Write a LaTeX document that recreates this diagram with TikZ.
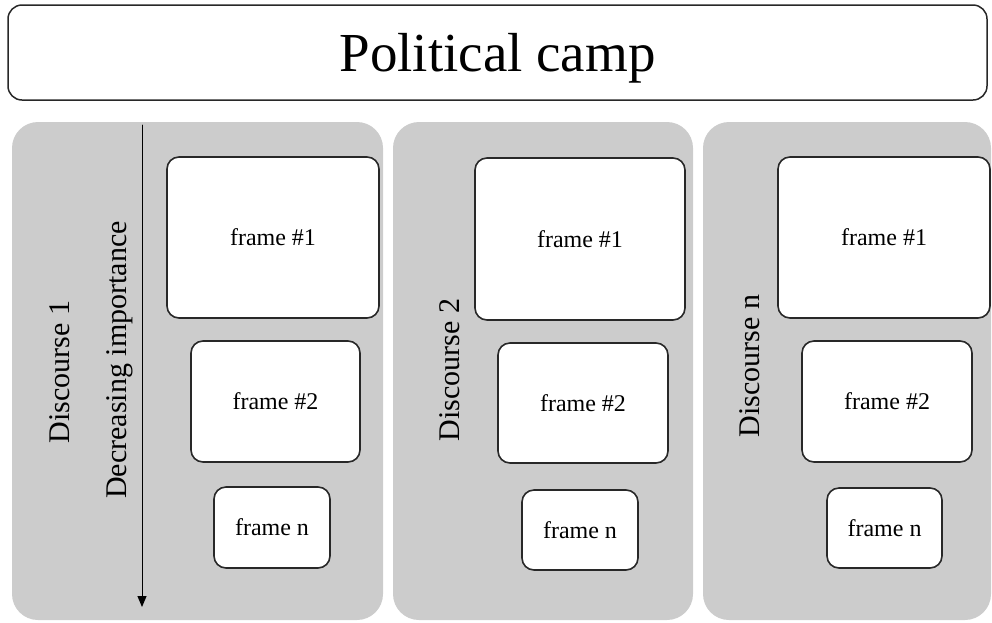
\documentclass[tikz,border=0pt]{standalone}
\usepackage{fontspec}
\setmainfont{Liberation Serif}
\usetikzlibrary{arrows.meta}
\definecolor{panelgray}{RGB}{204,204,204}
\definecolor{edgegray}{RGB}{40,40,40}
\begin{document}
\begin{tikzpicture}[line cap=round,line join=round,>={Triangle[width=9pt,length=11pt]},x=1pt,y=-1pt,
  camp/.style={draw=edgegray,line width=1.5pt,rounded corners=14pt,fill=white,
    minimum width=979pt,minimum height=95pt,text depth=0pt,font=\fontsize{55}{60}\selectfont},
  panel/.style={fill=panelgray,rounded corners=26pt},
  framebox/.style={draw=edgegray,line width=1.6pt,rounded corners=12pt,fill=white,
    inner sep=0pt,font=\fontsize{24}{28}\selectfont},
  disc/.style={rotate=90,font=\fontsize{30}{34}\selectfont}]
\useasboundingbox (0,0) rectangle (992,622);
\node[camp] (camp) at (497.5,52.5) {Political camp};
\fill[panel] (12,122) rectangle (383,620);
\fill[panel] (393,122) rectangle (693,620);
\fill[panel] (703,122) rectangle (991,620);
\node[framebox,minimum width=212pt,minimum height=161pt] (f11) at (273,237.5) {frame \#1};
\node[framebox,minimum width=169pt,minimum height=121pt] (f12) at (275.5,401.5) {frame \#2};
\node[framebox,minimum width=116pt,minimum height=81pt] (f1n) at (272,527.5) {frame n};
\node[framebox,minimum width=210pt,minimum height=162pt] (f21) at (580,239) {frame \#1};
\node[framebox,minimum width=170pt,minimum height=120pt] (f22) at (583,403) {frame \#2};
\node[framebox,minimum width=116pt,minimum height=80pt] (f2n) at (580,530) {frame n};
\node[framebox,minimum width=212pt,minimum height=161pt] (f31) at (884,237.5) {frame \#1};
\node[framebox,minimum width=170pt,minimum height=121pt] (f32) at (887,401.5) {frame \#2};
\node[framebox,minimum width=115pt,minimum height=80pt] (f3n) at (884.5,528) {frame n};
\node[disc] (d1) at (60,372) {Discourse 1};
\node[disc] (d2) at (450,370) {Discourse 2};
\node[disc] (dn) at (750,366) {Discourse n};
\node[disc] (imp) at (120,360) {Decreasing importance};
\coordinate (imptop) at (142,125);
\coordinate (impbot) at (142,607);
\draw[->,line width=1pt] (imptop) -- (impbot);
\end{tikzpicture}
\end{document}
